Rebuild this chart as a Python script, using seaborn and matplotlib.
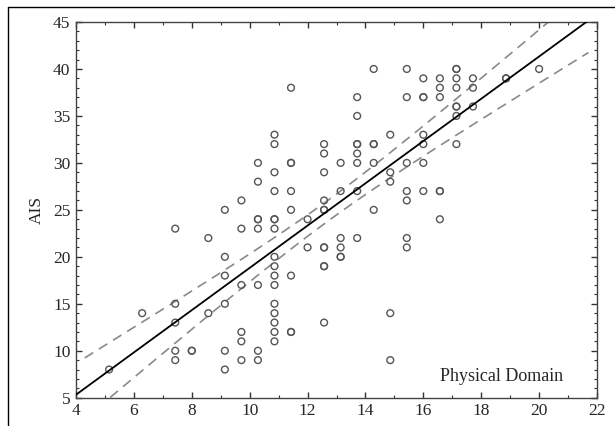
import numpy as np
import pandas as pd
import matplotlib.pyplot as plt
import matplotlib.lines as mlines
from matplotlib.ticker import MultipleLocator
import seaborn as sns

# Physical domain score sits on a grid of 4/7 steps; AIS values are integers
step = 4 / 7
col_index = [9, 11, 13, 14, 15, 16, 17, 18, 19, 20, 21, 22, 23, 24, 25, 26, 27, 28, 29, 30, 31, 33, 35]
ais_by_col = [
    [8],
    [14],
    [23, 15, 13, 10, 9],
    [10, 10],
    [22, 14],
    [25, 20, 18, 15, 10, 8],
    [26, 23, 17, 12, 11, 9],
    [30, 28, 24, 24, 23, 17, 10, 9],
    [33, 32, 29, 27, 24, 24, 23, 20, 19, 18, 17, 15, 14, 13, 12, 11],
    [38, 30, 30, 27, 25, 18, 12, 12],
    [24, 21],
    [32, 31, 29, 26, 25, 25, 21, 21, 19, 19, 13],
    [30, 27, 22, 21, 20, 20],
    [37, 35, 32, 32, 31, 30, 27, 22],
    [40, 32, 32, 30, 25],
    [33, 29, 28, 14, 9],
    [40, 37, 30, 27, 26, 22, 21],
    [39, 37, 37, 33, 32, 30, 27],
    [39, 38, 37, 27, 27, 24],
    [40, 40, 39, 38, 36, 36, 35, 32],
    [39, 38, 36],
    [39, 39],
    [40],
]
x_ticks = [4, 6, 8, 10, 12, 14, 16, 18, 20, 22]
y_ticks = [5, 10, 15, 20, 25, 30, 35, 40, 45]

physical = []
ais = []
for k, vals in zip(col_index, ais_by_col):
    for v in vals:
        physical.append(k * step)
        ais.append(v)
df = pd.DataFrame({"Physical": physical, "AIS": ais})

sns.set_style("ticks")
plt.rcParams["font.family"] = ["Liberation Serif", "DejaVu Serif"]

fig = plt.figure(figsize=(6.15, 4.26), dpi=100)
ax = fig.add_axes([76 / 615, 1 - 397.7 / 426, 521 / 615, 375.7 / 426])
ax.set_xlim(4, 22)
ax.set_ylim(5, 45)

sns.scatterplot(data=df, x="Physical", y="AIS", ax=ax, marker="o", s=24,
                facecolor="none", edgecolor="#555555", linewidth=1.0, zorder=3)

# least squares fit with 95% confidence band of the mean
xv = df["Physical"].to_numpy()
yv = df["AIS"].to_numpy()
n = len(xv)
b1, b0 = np.polyfit(xv, yv, 1)
resid = yv - (b0 + b1 * xv)
s = np.sqrt(np.sum(resid ** 2) / (n - 2))
sxx = np.sum((xv - xv.mean()) ** 2)
xs = np.linspace(4, 22, 200)
fit = b0 + b1 * xs
half = 1.974 * s * np.sqrt(1 / n + (xs - xv.mean()) ** 2 / sxx)
ax.plot(xs, fit, color="black", lw=1.3, zorder=4)
band_x = np.linspace(4.3, 21.7, 200)
band_fit = b0 + b1 * band_x
band_half = 1.974 * s * np.sqrt(1 / n + (band_x - xv.mean()) ** 2 / sxx)
for sign in (1, -1):
    ax.plot(band_x, band_fit + sign * band_half, color="#8a8a8a", lw=1.2,
            dashes=(6, 4), zorder=2)

ax.set_xticks(x_ticks)
ax.set_yticks(y_ticks)
ax.xaxis.set_minor_locator(MultipleLocator(1))
ax.yaxis.set_minor_locator(MultipleLocator(1))
ax.tick_params(which="both", direction="in", top=True, right=True,
               color="#333333", labelsize=12.5, pad=4)
ax.tick_params(which="major", length=4, width=1)
ax.tick_params(which="minor", length=2, width=0.8)
for sp in ax.spines.values():
    sp.set_visible(True)
    sp.set_color("#444444")
    sp.set_linewidth(1.0)

ax.set_xlabel("")
ax.set_ylabel("AIS", fontsize=12.5, labelpad=6)
ax.text(18.7, 7.3, "Physical Domain", fontsize=13, ha="center", va="center")

# outer frame around the panel
fig.add_artist(mlines.Line2D([8 / 615, 8 / 615], [0, 1 - 7 / 426],
                             transform=fig.transFigure, color="black", lw=1.0))
fig.add_artist(mlines.Line2D([8 / 615, 1], [1 - 7 / 426, 1 - 7 / 426],
                             transform=fig.transFigure, color="black", lw=1.0))

fig.savefig("out.png", dpi=100)
